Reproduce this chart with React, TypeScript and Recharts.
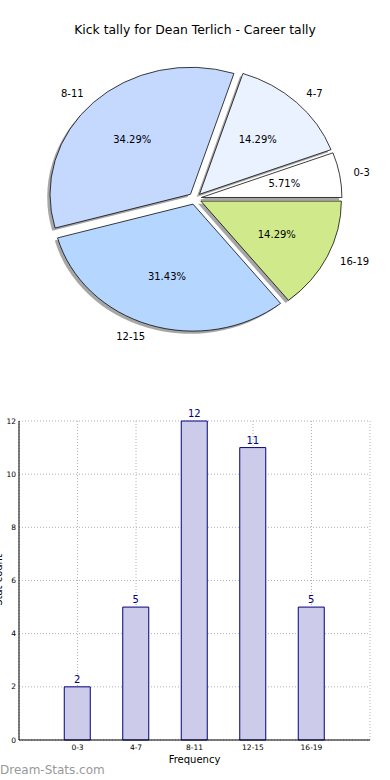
import { PieChart, Pie, Cell, BarChart, Bar, XAxis, YAxis, CartesianGrid, LabelList } from "recharts";

const categories = ["0-3", "4-7", "8-11", "12-15", "16-19"];
const counts = [2, 5, 12, 11, 5];
const sliceColors = ["#ffffff", "#eaf2ff", "#c5d9ff", "#b5d6ff", "#d0ea8b"];
const yTicks = [0, 2, 4, 6, 8, 10, 12];

const FONT = "'DejaVu Sans', sans-serif";
// matplotlib drew the pie without equal axes, so it is squashed vertically
const K = 0.904;
const PIE_CX = 195;
const PIE_CY = 219.6;
const PIE_R = 140.5;
const EXPLODE = 6.5;
const RAD = Math.PI / 180;

const total = counts.reduce((a, b) => a + b, 0);

function makeLabel(name: string, pct: string) {
  return (props: any) => {
    const { cx, cy, midAngle, outerRadius } = props;
    const c = Math.cos(-midAngle * RAD);
    const s = Math.sin(-midAngle * RAD);
    const lx = cx + outerRadius * 1.1 * c;
    const ly = cy + outerRadius * 1.1 * s;
    const px = cx + outerRadius * 0.6 * c;
    const py = cy + outerRadius * 0.6 * s;
    return (
      <g>
        <text
          transform={`translate(${lx},${ly}) scale(1,${1 / K})`}
          textAnchor={c >= 0 ? "start" : "end"}
          dominantBaseline="central"
          fontSize={10}
          fontFamily={FONT}
          fill="#000"
        >
          {name}
        </text>
        <text
          transform={`translate(${px},${py}) scale(1,${1 / K})`}
          textAnchor="middle"
          dominantBaseline="central"
          fontSize={10}
          fontFamily={FONT}
          fill="#000"
        >
          {pct}
        </text>
      </g>
    );
  };
}

export default function App() {
  let acc = 0;
  const slices = categories.map((name, i) => {
    const start = (acc / total) * 360;
    acc += counts[i];
    const end = (acc / total) * 360;
    const mid = ((start + end) / 2) * RAD;
    return {
      name,
      value: counts[i],
      start,
      end,
      dx: EXPLODE * Math.cos(mid),
      dy: -EXPLODE * Math.sin(mid),
      color: sliceColors[i],
      pct: ((counts[i] / total) * 100).toFixed(2) + "%",
    };
  });

  const barData = categories.map((c, i) => ({ label: c, count: counts[i] }));

  return (
    <div style={{ position: "absolute", left: 0, top: 0, width: 390, height: 780, background: "#fff", overflow: "hidden" }}>
      <div
        style={{
          position: "absolute", left: 0, top: 22, width: 390, textAlign: "center",
          fontFamily: FONT, fontSize: 12.4, lineHeight: "16px", color: "#000",
        }}
      >
        Kick tally for Dean Terlich - Career tally
      </div>

      <div style={{ position: "absolute", left: 0, top: 0, width: 390, height: 400, transform: `scaleY(${K})`, transformOrigin: "0 0" }}>
        <PieChart width={390} height={400} margin={{ top: 0, right: 0, bottom: 0, left: 0 }}>
          {slices.map((s) => (
            <Pie
              key={"shadow-" + s.name}
              data={[{ name: s.name, value: s.value }]}
              dataKey="value"
              cx={PIE_CX + s.dx - 2.8}
              cy={PIE_CY + s.dy + 3}
              outerRadius={PIE_R}
              startAngle={s.start}
              endAngle={s.end}
              stroke="none"
              isAnimationActive={false}
            >
              <Cell fill="#4d4d4d" fillOpacity={0.5} />
            </Pie>
          ))}
          {slices.map((s) => (
            <Pie
              key={s.name}
              data={[{ name: s.name, value: s.value }]}
              dataKey="value"
              cx={PIE_CX + s.dx}
              cy={PIE_CY + s.dy}
              outerRadius={PIE_R}
              startAngle={s.start}
              endAngle={s.end}
              stroke="#000"
              strokeWidth={0.8}
              isAnimationActive={false}
              labelLine={false}
              label={makeLabel(s.name, s.pct)}
            >
              <Cell fill={s.color} />
            </Pie>
          ))}
        </PieChart>
      </div>

      <div style={{ position: "absolute", left: 0, top: 400 }}>
        <BarChart width={390} height={370} data={barData} margin={{ top: 21, right: 20, bottom: 0, left: 0 }}>
          <CartesianGrid stroke="#b0b0b0" strokeDasharray="1 2" />
          <XAxis
            dataKey="label"
            height={30}
            padding={{ left: 29.25, right: 29.25 }}
            tick={{ fill: "#000", fontSize: 7.5, fontFamily: FONT }}
            tickLine={false}
            tickSize={0}
            tickMargin={5}
            axisLine={{ stroke: "#000" }}
          />
          <XAxis xAxisId="top" orientation="top" dataKey="label" height={0} tick={false} tickLine={false} axisLine={{ stroke: "#000" }} />
          <YAxis
            width={19}
            domain={[0, 12]}
            ticks={yTicks}
            tick={{ fill: "#000", fontSize: 7.5, fontFamily: FONT }}
            tickLine={false}
            tickSize={0}
            tickMargin={3}
            axisLine={{ stroke: "#000" }}
          />
          <YAxis yAxisId="right" orientation="right" width={0} tick={false} tickLine={false} axisLine={{ stroke: "#000" }} />
          <Bar dataKey="count" barSize={26} fill="#ccccea" stroke="#000080" strokeWidth={1} isAnimationActive={false}>
            <LabelList dataKey="count" position="top" offset={4} fill="#000080" fontSize={10} fontFamily={FONT} />
          </Bar>
        </BarChart>
      </div>

      <div
        style={{
          position: "absolute", left: 144.5, top: 752, width: 100, textAlign: "center",
          fontFamily: FONT, fontSize: 10, lineHeight: "16px", color: "#000",
        }}
      >
        Frequency
      </div>
      <div
        style={{
          position: "absolute", left: -51, top: 572, width: 100, textAlign: "center",
          fontFamily: FONT, fontSize: 10, lineHeight: "16px", color: "#000", transform: "rotate(-90deg)",
        }}
      >
        Stat count
      </div>
      <div
        style={{
          position: "absolute", left: 0, top: 762, fontFamily: FONT, fontSize: 12,
          lineHeight: "16px", color: "#999",
        }}
      >
        Dream-Stats.com
      </div>
    </div>
  );
}
